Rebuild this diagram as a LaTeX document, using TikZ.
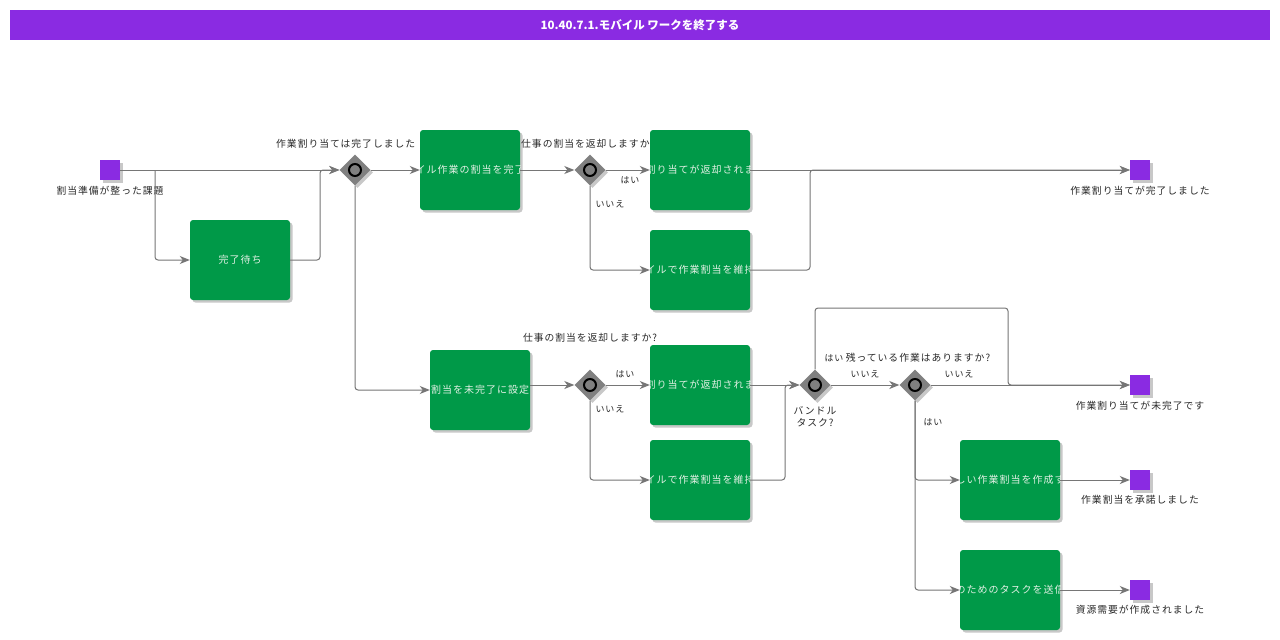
\documentclass[tikz,border=0pt]{standalone}
\usepackage{fontspec}
\setmainfont{Noto Sans CJK JP}
\newfontfamily\lblfont[LetterSpace=10]{Noto Sans CJK JP}
\usetikzlibrary{shapes.geometric,shadows,arrows.meta}
\definecolor{bpurple}{RGB}{138,43,226}
\definecolor{bgreen}{RGB}{0,153,72}
\definecolor{gwgray}{RGB}{128,128,128}
\definecolor{edgegray}{RGB}{118,118,118}
\definecolor{lblgray}{RGB}{40,40,40}
\definecolor{tasktxt}{RGB}{225,240,228}
\begin{document}
\begin{tikzpicture}[x=1pt,y=-1pt,
  shd/.style={drop shadow={shadow xshift=2.5pt,shadow yshift=-2.5pt,opacity=0.3,fill=black!70}},
  task/.style={rectangle, rounded corners=3pt, fill=bgreen, minimum width=100pt, minimum height=80pt, inner sep=0pt, shd},
  tasklbl/.style={task, path picture={\node[text=tasktxt, inner sep=0pt, font=\lblfont\fontsize{10}{12}\selectfont] at (path picture bounding box.center) {#1};}},
  event/.style={rectangle, fill=bpurple, minimum size=20pt, inner sep=0pt, shd},
  gw/.style={diamond, fill=gwgray, minimum width=31pt, minimum height=31pt, inner sep=0pt, shd,
    path picture={\draw[line width=2pt, fill=gwgray] (path picture bounding box.center) circle (6pt);}},
  flow/.style={draw=edgegray, line width=1pt, -{Stealth[length=10pt,width=8pt,inset=3pt]}, rounded corners=3pt},
  lbl/.style={font=\lblfont\fontsize{9.8}{12}\selectfont, text=lblgray, inner sep=0pt, align=center},
  elbl/.style={font=\lblfont\fontsize{9}{11}\selectfont, text=lblgray, inner sep=0pt}
]
\useasboundingbox (0,0) rectangle (1280,640);
\fill[white] (0,0) rectangle (1280,640);
% title
\node[fill=bpurple, minimum width=1260pt, minimum height=30pt, inner sep=0pt, text=white,
  font=\bfseries\fontsize{11.5}{13}\selectfont] (title) at (640,25) {10.40.7.1.モバイル ワークを終了する};

% gateway labels partly hidden by boxes (drawn first)
\node[lbl, anchor=west] (g1lbl) at (276,144) {作業割り当ては完了しました};
\node[lbl, anchor=west] (g2lbl) at (521,144) {仕事の割当を返却しますか};

% nodes
\node[event] (start) at (110,170) {};
\node[task] (wait) at (240,260) {};
\node[text=tasktxt, inner sep=0pt, font=\lblfont\fontsize{10}{12}\selectfont] (waittxt) at (wait) {完了待ち};
\node[gw] (g1) at (355,170) {};
\node[tasklbl={イル作業の割当を完了}] (a) at (470,170) {};
\node[gw] (g2) at (590,170) {};
\node[tasklbl={割り当てが返却されま}] (b) at (700,170) {};
\node[tasklbl={イルで作業割当を維持}] (c) at (700,270) {};
\node[event] (end1) at (1140,170) {};
\node[tasklbl={割当を未完了に設定}] (d) at (480,390) {};
\node[gw] (g3) at (590,385) {};
\node[tasklbl={割り当てが返却されま}] (e) at (700,385) {};
\node[tasklbl={イルで作業割当を維持}] (f) at (700,480) {};
\node[gw] (g4) at (815,385) {};
\node[gw] (g5) at (915,385) {};
\node[event] (end2) at (1140,385) {};
\node[tasklbl={しい作業割当を作成す}] (g) at (1010,480) {};
\node[tasklbl={のためのタスクを送信}] (h) at (1010,590) {};
\node[event] (end3) at (1140,480) {};
\node[event] (end4) at (1140,590) {};

% labels
\node[lbl] (startlbl) at (110,191) {割当準備が整った課題};
\node[lbl] (end1lbl) at (1140,191) {作業割り当てが完了しました};
\node[lbl] (end2lbl) at (1140,406) {作業割り当てが未完了です};
\node[lbl] (end3lbl) at (1140,500) {作業割当を承諾しました};
\node[lbl] (end4lbl) at (1140,610) {資源需要が作成されました};
\node[lbl] (g3lbl) at (590,338) {仕事の割当を返却しますか?};
\node[lbl] (g4lbl) at (815,417) {バンドル\\タスク?};
\node[lbl] (g5lbl) at (918,358) {残っている作業はありますか?};
\node[elbl] (l1) at (630,180) {はい};
\node[elbl] (l2) at (610,204) {いいえ};
\node[elbl] (l3) at (625,374) {はい};
\node[elbl] (l4) at (610,409) {いいえ};
\node[elbl] (l5) at (865,374) {いいえ};
\node[elbl] (l6) at (959,374) {いいえ};
\node[elbl] (l7) at (933,422) {はい};
\node[elbl] (l8) at (834,358) {はい};

% junction coordinates
\coordinate (js) at (155,170);
\coordinate (jw) at (320,170);
\coordinate (jc) at (810,170);
\coordinate (jf) at (785,385);
\coordinate (j1) at (1008,308);

% connectors
\draw[flow] (start.east) -- (g1.west);
\draw[flow] (js) |- (wait.west);
\draw[flow] (wait.east) -| (jw) -- (g1.west);
\draw[flow] (g1.east) -- (a.west);
\draw[flow] (g1.south) |- (d.west);
\draw[flow] (a.east) -- (g2.west);
\draw[flow] (g2.east) -- (b.west);
\draw[flow] (g2.south) |- (c.west);
\draw[flow] (b.east) -- (end1.west);
\draw[flow] (c.east) -| (jc) -- (end1.west);
\draw[flow] (d.east |- g3.west) -- (g3.west);
\draw[flow] (g3.east) -- (e.west);
\draw[flow] (g3.south) |- (f.west);
\draw[flow] (e.east) -- (g4.west);
\draw[flow] (f.east) -| (jf) -- (g4.west);
\draw[flow] (g4.east) -- (g5.west);
\draw[flow] (g4.north) |- (j1) |- (end2.west);
\draw[flow] (g5.east) -- (end2.west);
\draw[flow] (g5.south) |- (g.west);
\draw[flow] (g5.south) |- (h.west);
\draw[flow] (g.east) -- (end3.west);
\draw[flow] (h.east) -- (end4.west);
\end{tikzpicture}
\end{document}
